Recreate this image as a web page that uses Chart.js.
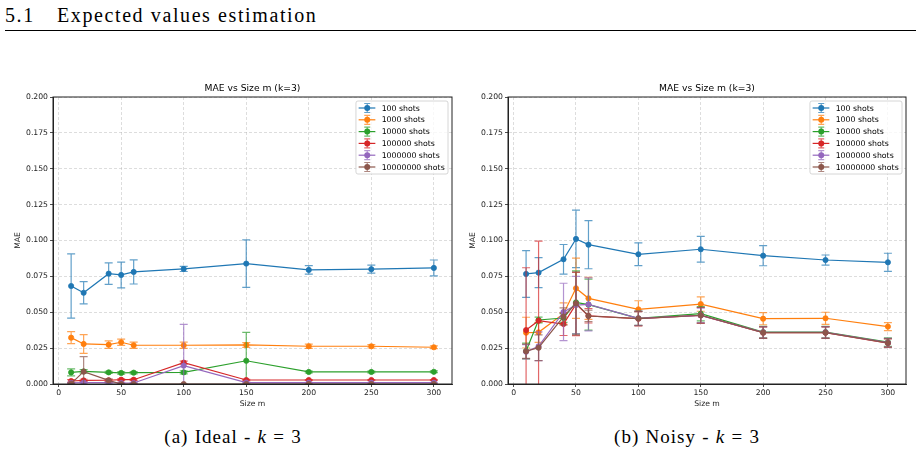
<!DOCTYPE html>
<html>
<head>
<meta charset="utf-8">
<script src="https://cdn.jsdelivr.net/npm/chart.js@4.4.1/dist/chart.umd.min.js"></script>
<style>
  body { margin: 0; width: 921px; height: 457px; background: #fff; position: relative; overflow: hidden; }
  .serif { position: absolute; font-family: "Liberation Serif", "DejaVu Serif", serif; color: #000; white-space: nowrap; line-height: 1; }
  canvas { position: absolute; top: 75px; }
</style>
</head>
<body>
<div class="serif" style="left:5px;top:5px;font-size:20px;letter-spacing:1.6px">5.1</div>
<div class="serif" style="left:57px;top:5px;font-size:20px;letter-spacing:1.6px">Expected values estimation</div>
<div style="position:absolute;left:5px;top:30px;width:911px;height:1px;background:#000"></div>

<canvas id="chartIdeal" width="460" height="335" style="left:0px"></canvas>
<canvas id="chartNoisy" width="459" height="335" style="left:455px"></canvas>

<div class="serif" style="left:233px;top:427px;font-size:19px;letter-spacing:1px;word-spacing:0.5px;transform:translateX(-50%)">(a) Ideal - <i>k</i> = 3</div>
<div class="serif" style="left:687px;top:427px;font-size:19px;letter-spacing:1px;word-spacing:0.5px;transform:translateX(-50%)">(b) Noisy - <i>k</i> = 3</div>

<script>
// tailles m (axe x)
const sizes = [10, 20, 40, 50, 60, 100, 150, 200, 250, 300];
const shotLabels = ['100 shots', '1000 shots', '10000 shots', '100000 shots', '1000000 shots', '10000000 shots'];
const lineColors = ['#1f77b4', '#ff7f0e', '#2ca02c', '#d62728', '#9467bd', '#8c564b'];
const errColors = ['rgba(31,119,180,0.7)', 'rgba(255,127,14,0.7)', 'rgba(44,160,44,0.7)',
                   'rgba(214,39,40,0.7)', 'rgba(148,103,189,0.7)', 'rgba(140,86,75,0.7)'];
const yTicksStep = 0.025;

// (a) Ideal
const ideal100 = [0.0683, 0.0636, 0.0769, 0.0760, 0.0781, 0.0802, 0.0839, 0.0795, 0.0800, 0.0809];
const ideal100Err = [0.0224, 0.0077, 0.0075, 0.0090, 0.0084, 0.0018, 0.0165, 0.0030, 0.0028, 0.0055];
const ideal1000 = [0.0323, 0.0279, 0.0274, 0.0291, 0.0270, 0.0270, 0.0272, 0.0263, 0.0263, 0.0256];
const ideal1000Err = [0.0042, 0.0065, 0.0026, 0.0022, 0.0022, 0.0022, 0.0017, 0.0015, 0.0012, 0.0010];
const ideal10000 = [0.0081, 0.0088, 0.0081, 0.0077, 0.0079, 0.0081, 0.0162, 0.0084, 0.0084, 0.0085];
const ideal10000Err = [0.0025, 0.0012, 0.0008, 0.0008, 0.0008, 0.0010, 0.0198, 0.0006, 0.0006, 0.0006];
const ideal100000 = [0.0021, 0.0025, 0.0026, 0.0030, 0.0030, 0.0149, 0.0028, 0.0028, 0.0028, 0.0028];
const ideal100000Err = [0.0010, 0.0008, 0.0006, 0.0006, 0.0006, 0.0010, 0.0004, 0.0003, 0.0003, 0.0003];
const ideal1000000 = [0.0008, 0.0010, 0.0010, 0.0007, 0.0007, 0.0128, 0.0010, 0.0009, 0.0009, 0.0009];
const ideal1000000Err = [0.0004, 0.0004, 0.0004, 0.0003, 0.0003, 0.0288, 0.0003, 0.0002, 0.0002, 0.0002];
const ideal10000000 = [0.0003, 0.0086, 0.0025, 0.0000, 0.0000, 0.0000, 0.0000, 0.0000, 0.0000, 0.0000];
const ideal10000000Err = [0.0003, 0.0105, 0.0010, 0.0001, 0.0001, 0.0001, 0.0001, 0.0001, 0.0001, 0.0001];

// (b) Noisy
const noisy100 = [0.0767, 0.0776, 0.0869, 0.1011, 0.0971, 0.0904, 0.0939, 0.0894, 0.0864, 0.0848];
const noisy100Err = [0.0163, 0.0105, 0.0103, 0.0200, 0.0168, 0.0079, 0.0090, 0.0070, 0.0035, 0.0063];
const noisy1000 = [0.0358, 0.0360, 0.0490, 0.0667, 0.0597, 0.0520, 0.0557, 0.0455, 0.0458, 0.0400];
const noisy1000Err = [0.0107, 0.0070, 0.0075, 0.0210, 0.0147, 0.0060, 0.0050, 0.0042, 0.0042, 0.0028];
const noisy10000 = [0.0230, 0.0446, 0.0460, 0.0569, 0.0553, 0.0458, 0.0490, 0.0362, 0.0362, 0.0292];
const noisy10000Err = [0.0055, 0.0020, 0.0030, 0.0220, 0.0178, 0.0050, 0.0050, 0.0040, 0.0040, 0.0030];
const noisy100000 = [0.0376, 0.0441, 0.0418, 0.0557, 0.0475, 0.0455, 0.0478, 0.0358, 0.0358, 0.0285];
const noisy100000Err = [0.0434, 0.0554, 0.0080, 0.0220, 0.0050, 0.0050, 0.0055, 0.0040, 0.0040, 0.0030];
const noisy1000000 = [0.0225, 0.0263, 0.0502, 0.0550, 0.0555, 0.0458, 0.0478, 0.0360, 0.0360, 0.0288];
const noisy1000000Err = [0.0050, 0.0100, 0.0200, 0.0200, 0.0185, 0.0050, 0.0050, 0.0040, 0.0040, 0.0030];
const noisy10000000 = [0.0228, 0.0253, 0.0470, 0.0562, 0.0474, 0.0456, 0.0479, 0.0358, 0.0358, 0.0286];
const noisy10000000Err = [0.0050, 0.0090, 0.0060, 0.0220, 0.0040, 0.0050, 0.0055, 0.0040, 0.0040, 0.0030];

const idealMeans = [ideal100, ideal1000, ideal10000, ideal100000, ideal1000000, ideal10000000];
const idealErrs = [ideal100Err, ideal1000Err, ideal10000Err, ideal100000Err, ideal1000000Err, ideal10000000Err];
const noisyMeans = [noisy100, noisy1000, noisy10000, noisy100000, noisy1000000, noisy10000000];
const noisyErrs = [noisy100Err, noisy1000Err, noisy10000Err, noisy100000Err, noisy1000000Err, noisy10000000Err];

const sans = '"DejaVu Sans", sans-serif';

// barres d'erreur, dessinées sous chaque série
const errorBars = {
  id: 'errorBars',
  beforeDatasetDraw(chart, args) {
    const ds = chart.data.datasets[args.index];
    if (!ds.errors) return;
    const { ctx, chartArea, scales: { x, y } } = chart;
    ctx.save();
    ctx.beginPath();
    ctx.rect(chartArea.left, chartArea.top, chartArea.width, chartArea.height);
    ctx.clip();
    ctx.strokeStyle = ds.errorColor;
    ctx.lineWidth = 1.2;
    ds.data.forEach((p, i) => {
      const e = ds.errors[i];
      const px = x.getPixelForValue(p.x);
      const top = y.getPixelForValue(p.y + e);
      const bot = y.getPixelForValue(p.y - e);
      ctx.beginPath();
      ctx.moveTo(px, top); ctx.lineTo(px, bot);
      ctx.moveTo(px - 4, top); ctx.lineTo(px + 4, top);
      ctx.moveTo(px - 4, bot); ctx.lineTo(px + 4, bot);
      ctx.stroke();
    });
    ctx.restore();
  }
};

// cadre complet + titre + légende façon matplotlib
const frameAndLegend = {
  id: 'frameAndLegend',
  afterDatasetsDraw(chart, args, opts) {
    const { ctx, chartArea } = chart;
    ctx.save();
    ctx.strokeStyle = '#222';
    ctx.lineWidth = 1;
    ctx.strokeRect(chartArea.left, chartArea.top, chartArea.width, chartArea.height);

    // titre centré sur la zone de tracé
    ctx.fillStyle = '#000';
    ctx.font = '9.2px ' + sans;
    ctx.textAlign = 'center';
    ctx.textBaseline = 'middle';
    ctx.fillText(opts.title, (chartArea.left + chartArea.right) / 2, chartArea.top - 8);

    // légende
    const sets = chart.data.datasets;
    ctx.font = '7.8px ' + sans;
    ctx.textAlign = 'left';
    const textW = Math.max(...sets.map(d => ctx.measureText(d.label).width));
    const rowH = 11.8;
    const w = textW + 29, h = 14 + (sets.length - 1) * rowH;
    const x0 = chartArea.right - 4 - w, y0 = chartArea.top + 4;
    ctx.beginPath();
    ctx.roundRect(x0, y0, w, h, 2);
    ctx.fillStyle = 'rgba(255,255,255,0.8)';
    ctx.fill();
    ctx.strokeStyle = '#cccccc';
    ctx.lineWidth = 0.8;
    ctx.stroke();
    sets.forEach((d, i) => {
      const cy = y0 + 7 + i * rowH;
      const mx = x0 + 11.3;
      ctx.strokeStyle = d.errorColor;
      ctx.lineWidth = 1.2;
      ctx.beginPath();
      ctx.moveTo(mx, cy - 4.5); ctx.lineTo(mx, cy + 4.5);
      ctx.moveTo(mx - 3, cy - 4.5); ctx.lineTo(mx + 3, cy - 4.5);
      ctx.moveTo(mx - 3, cy + 4.5); ctx.lineTo(mx + 3, cy + 4.5);
      ctx.stroke();
      ctx.strokeStyle = d.borderColor;
      ctx.beginPath();
      ctx.moveTo(x0 + 2.7, cy); ctx.lineTo(x0 + 19.4, cy);
      ctx.stroke();
      ctx.fillStyle = d.borderColor;
      ctx.beginPath();
      ctx.arc(mx, cy, 3, 0, 2 * Math.PI);
      ctx.fill();
      ctx.fillStyle = '#000';
      ctx.fillText(d.label, x0 + 25.7, cy + 0.5);
    });
    ctx.restore();
  }
};

function buildDatasets(means, errs) {
  return means.map((vals, i) => ({
    label: shotLabels[i],
    data: sizes.map((m, j) => ({ x: m, y: vals[j] })),
    errors: errs[i],
    errorColor: errColors[i],
    borderColor: lineColors[i],
    backgroundColor: lineColors[i],
    borderWidth: 1.2,
    pointRadius: 2.6,
    pointBorderWidth: 0.8,
    tension: 0,
    order: 5 - i
  }));
}

function buildOptions(title) {
  const gridStyle = {
    color: 'rgba(176,176,176,0.55)',
    lineWidth: 0.8,
    tickColor: '#222',
    tickLength: 3,
    tickWidth: 0.8,
    tickBorderDash: []
  };
  return {
    responsive: false,
    animation: false,
    devicePixelRatio: 1,
    layout: { padding: { top: 22, right: 8, left: 0, bottom: 0 } },
    plugins: {
      legend: { display: false },
      tooltip: { enabled: false },
      frameAndLegend: { title: title }
    },
    scales: {
      x: {
        type: 'linear',
        min: -4.5,
        max: 314.5,
        afterFit: s => { s.height = 26; },
        ticks: { stepSize: 50, includeBounds: false, maxRotation: 0, padding: 1, color: '#222', font: { family: sans, size: 7.7 } },
        grid: gridStyle,
        border: { color: '#222', width: 1, dash: [3, 2] },
        title: { display: true, text: 'Size m', color: '#222', font: { family: sans, size: 7.7 }, padding: { top: 0, bottom: 1 } }
      },
      y: {
        min: 0,
        max: 0.2,
        afterFit: s => { s.width = 53; },
        ticks: { stepSize: yTicksStep, padding: 2, color: '#222', font: { family: sans, size: 7.7 }, callback: v => v.toFixed(3) },
        grid: gridStyle,
        border: { color: '#222', width: 1, dash: [3, 2] },
        title: { display: true, text: 'MAE', color: '#222', font: { family: sans, size: 7.7 }, padding: { top: 13.5, bottom: 0 } }
      }
    }
  };
}

const chartIdeal = new Chart(document.getElementById('chartIdeal').getContext('2d'), {
  type: 'line',
  data: { datasets: buildDatasets(idealMeans, idealErrs) },
  options: buildOptions('MAE vs Size m (k=3)'),
  plugins: [errorBars, frameAndLegend]
});

const chartNoisy = new Chart(document.getElementById('chartNoisy').getContext('2d'), {
  type: 'line',
  data: { datasets: buildDatasets(noisyMeans, noisyErrs) },
  options: buildOptions('MAE vs Size m (k=3)'),
  plugins: [errorBars, frameAndLegend]
});
</script>
</body>
</html>
